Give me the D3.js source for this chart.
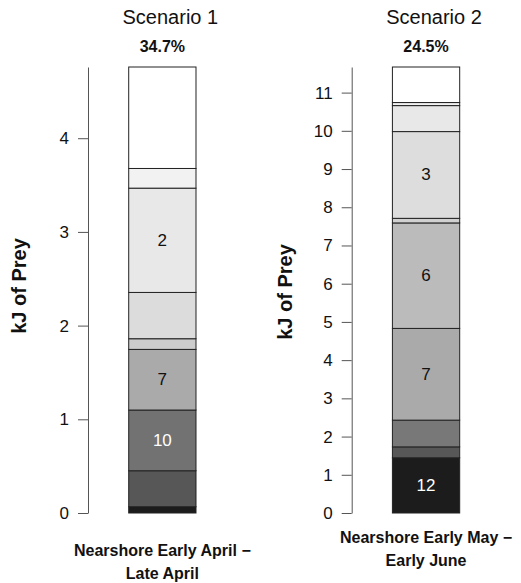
<!DOCTYPE html>
<html>
<head>
<meta charset="utf-8">
<script src="https://cdn.jsdelivr.net/npm/d3@7"></script>
<style>
  body { margin: 0; background: #fff; }
  svg { display: block; font-family: "Liberation Sans", Arial, sans-serif; }
</style>
</head>
<body>
<svg id="chart" width="521" height="583"></svg>
<script>
// Stacked energy bars, one per scenario

const scenarios = ["Scenario 1", "Scenario 2"];
const percents = ["34.7%", "24.5%"];
const periodLabels = [
    ["Nearshore Early April \u2212", "Late April"],
    ["Nearshore Early May \u2212", "Early June"]
];

// segment values (kJ), bottom to top
const s1Values = [0.067, 0.384, 0.648, 0.647, 0.114, 0.494, 1.113, 0.210, 1.083];
const s1Labels = ["", "", "10", "7", "", "", "2", "", ""];
const s1Fills = ["#1c1c1c", "#575757", "#727272", "#aaaaaa", "#cccccc", "#dcdcdc", "#e8e8e8", "#f2f2f2", "#ffffff"];

const s2Values = [1.445, 0.285, 0.700, 2.400, 2.760, 0.120, 2.270, 0.680, 0.080, 0.930];
const s2Labels = ["12", "", "", "7", "6", "", "3", "", "", ""];
const s2Fills = ["#1c1c1c", "#575757", "#787878", "#aaaaaa", "#bbbbbb", "#d0d0d0", "#dddddd", "#e8e8e8", "#f2f2f2", "#ffffff"];

const s1Ticks = d3.range(0, 5);
const s2Ticks = d3.range(0, 12);

const panels = [
    { values: s1Values, labels: s1Labels, fills: s1Fills, ticks: s1Ticks, labelY: 556, ylabY: 286 },
    { values: s2Values, labels: s2Labels, fills: s2Fills, ticks: s2Ticks, labelY: 543, ylabY: 292 }
];

const svg = d3.select("#chart");

const panelX = d3.scaleBand()
    .domain(scenarios)
    .range([0, 527]);

scenarios.forEach((name, i) => {
    const p = panels[i];
    const total = d3.sum(p.values);
    const g = svg.append("g")
        .attr("transform", `translate(${panelX(name)},0)`);

    const axisX = i === 0 ? 88 : 88.2;

    const y = d3.scaleLinear()
        .domain([0, total])
        .range([513, 67]);

    const xBar = d3.scaleBand()
        .domain([name])
        .range([axisX, axisX + 148.7])
        .paddingInner(0)
        .paddingOuter(0.605);

    // stacked segments
    let acc = 0;
    const segs = p.values.map((v, k) => {
        const s = { y0: acc, y1: acc + v, label: p.labels[k], fill: p.fills[k] };
        acc += v;
        return s;
    });

    g.selectAll("rect.seg")
        .data(segs)
        .join("rect")
        .attr("class", "seg")
        .attr("x", xBar(name))
        .attr("width", xBar.bandwidth())
        .attr("y", d => y(d.y1))
        .attr("height", d => y(d.y0) - y(d.y1))
        .attr("fill", d => d.fill)
        .attr("stroke", "#222")
        .attr("stroke-width", 1);

    g.selectAll("text.seglab")
        .data(segs.filter(d => d.label))
        .join("text")
        .attr("class", "seglab")
        .attr("x", xBar(name) + xBar.bandwidth() / 2)
        .attr("y", d => y((d.y0 + d.y1) / 2))
        .attr("text-anchor", "middle")
        .attr("dominant-baseline", "central")
        .attr("font-size", "17px")
        .attr("fill", d => d3.hsl(d.fill).l < 0.5 ? "#ffffff" : "#111")
        .text(d => d.label);

    // y axis
    const axis = g.append("g")
        .attr("transform", `translate(${axisX},0)`)
        .call(d3.axisLeft(y)
            .tickValues(p.ticks)
            .tickSize(10)
            .tickSizeOuter(0)
            .tickPadding(9)
            .tickFormat(d3.format("d")));
    axis.select(".domain").attr("stroke", "#555");
    axis.selectAll(".tick line").attr("stroke", "#555");
    axis.selectAll(".tick text")
        .attr("font-size", "17px")
        .attr("fill", "#111");

    // y label
    g.append("text")
        .attr("transform", `translate(${i === 0 ? 26 : 28},${p.ylabY}) rotate(-90)`)
        .attr("text-anchor", "middle")
        .attr("font-size", "20px")
        .attr("font-weight", "bold")
        .attr("fill", "#111")
        .text("kJ of Prey");

    // titles
    const cx = xBar(name) + xBar.bandwidth() / 2;
    g.append("text")
        .attr("x", cx + 8)
        .attr("y", 24)
        .attr("text-anchor", "middle")
        .attr("font-size", "20px")
        .attr("fill", "#111")
        .text(name);

    g.append("text")
        .attr("x", cx)
        .attr("y", 52)
        .attr("text-anchor", "middle")
        .attr("font-size", "16px")
        .attr("font-weight", "bold")
        .attr("fill", "#111")
        .text(percents[i]);

    // period label under bar
    periodLabels[i].forEach((line, k) => {
        g.append("text")
            .attr("x", cx)
            .attr("y", p.labelY + k * 23)
            .attr("text-anchor", "middle")
            .attr("font-size", "16px")
            .attr("font-weight", "bold")
            .attr("fill", "#111")
            .text(line);
    });
});
</script>
</body>
</html>
